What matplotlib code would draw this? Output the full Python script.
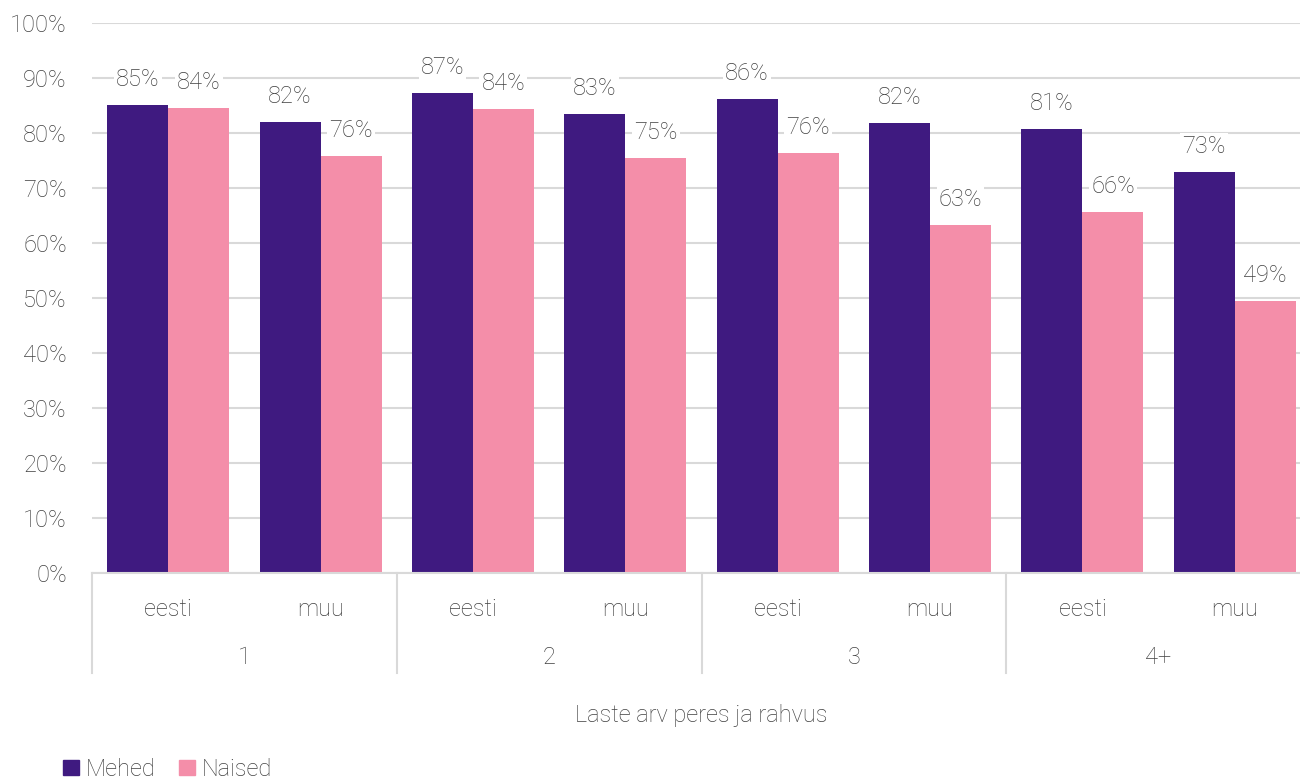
import matplotlib
matplotlib.use("Agg")
import matplotlib.pyplot as plt
import matplotlib.transforms as mtransforms
from matplotlib.patches import Patch
import numpy as np

plt.rcParams['font.family'] = ['Roboto', 'DejaVu Sans']
plt.rcParams['font.weight'] = 'light'
plt.rcParams['axes.labelweight'] = 'light'

groups = ["1", "2", "3", "4+"]
subcats = ["eesti", "muu"]
series_names = ["Mehed", "Naised"]
mehed = [85.1, 82.0, 87.3, 83.5, 86.2, 81.8, 80.7, 72.9]
naised = [84.5, 75.8, 84.4, 75.5, 76.4, 63.3, 65.6, 49.5]
mehed_labels = ["85%", "82%", "87%", "83%", "86%", "82%", "81%", "73%"]
naised_labels = ["84%", "76%", "84%", "75%", "76%", "63%", "66%", "49%"]
xlabel = "Laste arv peres ja rahvus"

c_m = "#3F1A80"
c_n = "#F48EA9"
txt = "#404040"
grid = "#D9D9D9"
fs = 17

fig = plt.figure(figsize=(13, 7.83), dpi=100)
W, H = 1300, 783
ax = fig.add_axes([92 / W, 1 - 573 / H, (1311 - 92) / W, (573 - 23) / H])

n = len(mehed)
x = np.arange(n)
bw = 0.4
b1 = ax.bar(x - bw / 2, mehed, bw, color=c_m, zorder=2)
b2 = ax.bar(x + bw / 2, naised, bw, color=c_n, zorder=2)

for bars, labs in ((b1, mehed_labels), (b2, naised_labels)):
    anns = ax.bar_label(bars, labels=labs, padding=10, fontsize=fs, color=txt)
    for a in anns:
        a.set_bbox(dict(facecolor='white', edgecolor='none', pad=1.5))
        a.set_zorder(3)

ax.set_ylim(0, 100)
ax.set_xlim(-0.5, n - 0.5)
ax.set_yticks(np.arange(0, 101, 10))
ax.set_yticklabels([f"{v}%" for v in range(0, 101, 10)], fontsize=fs, color=txt)
ax.yaxis.grid(True, color=grid, linewidth=1.5, zorder=0)
ax.set_axisbelow(True)
ax.tick_params(axis='y', length=0, pad=18)
for s in ['top', 'right', 'left']:
    ax.spines[s].set_visible(False)
ax.spines['bottom'].set_color(grid)
ax.spines['bottom'].set_linewidth(1.5)

ax.set_xticks(x)
ax.set_xticklabels([subcats[i % 2] for i in range(n)], fontsize=fs, color=txt)
ax.tick_params(axis='x', length=0, pad=18)

trans = mtransforms.blended_transform_factory(ax.transData, ax.transAxes)
per = len(subcats)
bounds = [-0.5 + per * g for g in range(len(groups) + 1)]
for b in bounds:
    ax.plot([b, b], [0, -100 / 550], transform=trans, color=grid, lw=1.5,
            clip_on=False, zorder=1)
for g, name in enumerate(groups):
    ax.text(per * g + (per - 1) / 2, -85 / 550, name, transform=trans,
            ha='center', va='center', fontsize=fs, color=txt)

ax.set_xlabel(xlabel, fontsize=fs, color=txt, labelpad=60)

handles = [Patch(color=c_m), Patch(color=c_n)]
fig.legend(handles, series_names, loc='lower left', bbox_to_anchor=(42 / W, -19 / H),
           frameon=False, fontsize=fs, ncol=2, handlelength=0.65, handleheight=0.65,
           handletextpad=0.3, columnspacing=1.0, labelcolor=txt)

fig.savefig("out.png", dpi=100)
